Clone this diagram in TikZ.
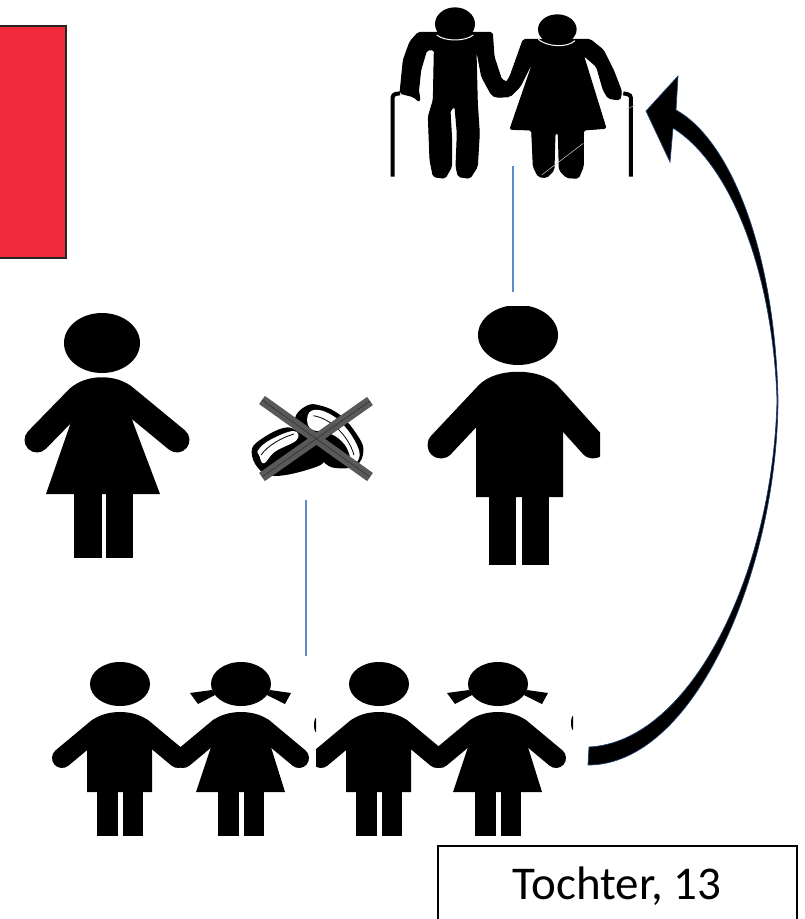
\documentclass[tikz,border=0pt]{standalone}
\usepackage{fontspec}
\setmainfont{Carlito}
\definecolor{boxred}{HTML}{EE2A3B}
\definecolor{linkblue}{HTML}{5B8BC8}
\definecolor{crossgray}{HTML}{595959}
\definecolor{arrowedge}{HTML}{1F3F6F}
\tikzset{
  link/.style={draw=linkblue,line width=1.3pt},
  sil/.style={fill=black,draw=none},
  oldsil/.style={fill=black,draw=black,line width=1pt,rounded corners=2pt},
  limb/.style={draw=black,line cap=round,line join=round},
  pics/boy/.style={code={
    \fill[sil] (0,0) ellipse (30 and 22);
    \fill[sil] (-18,36) -- (18,36) -- (32,58) -- (32,108) -- (-33,108) -- (-33,58) -- cycle;
    \draw[limb,line width=20] (-58,74) -- (-22,44) .. controls (-10,36) and (10,36) .. (22,44) -- (58,74);
    \fill[sil] (-23,108) rectangle (-2,152);
    \fill[sil] (3,108) rectangle (23,152);
  }},
  pics/girl/.style={code={
    \fill[sil] (0,0) ellipse (30 and 22);
    \fill[sil] (-51,9) -- (-29,6) -- (-26,11) -- (-43,20) -- cycle;
    \fill[sil] (50,9) -- (29,6) -- (26,11) -- (44,20) -- cycle;
    \fill[sil] (-20,36) -- (20,36) -- (29,60) -- (44,108) -- (-45,108) -- (-29,60) -- cycle;
    \draw[limb,line width=20] (-58,74) -- (-22,44) .. controls (-10,36) and (10,36) .. (22,44) -- (58,74);
    \fill[sil] (-23,108) rectangle (-2,152);
    \fill[sil] (3,108) rectangle (23,152);
  }}
}
\begin{document}
\begin{tikzpicture}[x=1pt,y=-1pt]
  \useasboundingbox (0,0) rectangle (805,919);
  % red box
  \node (redbox) [draw=black!85,fill=boxred,line width=1.8pt,minimum width=72pt,minimum height=232pt,inner sep=0pt,anchor=north east] at (67,25) {};
  % old couple
  \begin{scope}[shift={(370,0)},x=0.3333pt,y=-0.3333pt]
    \fill[sil] (255,72) ellipse (60 and 50);
    \fill[sil] (562,88) ellipse (58 and 45);
    \filldraw[oldsil] (145,97) -- (367,97) -- (372,170) -- (395,240) -- (425,250) -- (420,290) -- (380,292) -- (365,285) -- (335,230) -- (320,150) -- (318,150) -- (322,310) -- (328,400) -- (322,500) -- (300,535) -- (265,530) -- (258,500) -- (262,400) -- (255,320) -- (240,330) -- (245,420) -- (245,500) -- (225,535) -- (190,530) -- (180,480) -- (175,350) -- (190,300) -- (193,150) -- (170,150) -- (152,210) -- (145,278) -- (150,290) -- (148,305) -- (130,290) -- (90,280) -- (100,180) -- (120,125) -- cycle;
    \filldraw[oldsil] (460,118) -- (660,118) -- (700,150) -- (730,210) -- (755,275) -- (750,300) -- (715,295) -- (700,270) -- (680,200) -- (640,165) -- (708,385) -- (640,390) -- (640,500) -- (625,535) -- (590,533) -- (568,510) -- (565,400) -- (555,400) -- (552,510) -- (530,533) -- (505,530) -- (490,500) -- (485,390) -- (420,388) -- (495,170) -- (450,260) -- (420,290) -- (385,285) -- (420,230) -- cycle;
    \draw[black,line width=4pt,rounded corners=3pt] (68,530) -- (68,283) -- (90,280);
    \draw[black,line width=4pt,rounded corners=3pt] (783,530) -- (783,285) -- (760,280);
    \draw[white,line width=1pt] (200,105) .. controls (225,125) and (285,125) .. (310,105);
    \draw[white,line width=1pt] (505,118) .. controls (530,140) and (590,145) .. (615,122);
    \draw[black!20,line width=0.5pt] (515,525) -- (640,430);
    \draw[black!20,line width=0.5pt] (772,327) -- (795,315);
  \end{scope}
  % woman
  \fill[sil] (102,343) ellipse (38 and 30);
  \fill[sil] (85,385) -- (120,385) -- (134,425) -- (160,494) -- (46,494) -- (70,425) -- cycle;
  \draw[limb,line width=25] (37,440) -- (78,398) .. controls (90,387) and (114,387) .. (126,398) -- (177,440);
  \fill[sil] (74,494) rectangle (102,558);
  \fill[sil] (106,494) rectangle (133,558);
  % man
  \begin{scope}
    \clip (420,306) rectangle (600,570);
    \fill[sil] (518,335) ellipse (40 and 30);
    \fill[sil] (505,380) -- (535,380) -- (563,420) -- (563,497) -- (476,497) -- (476,420) -- cycle;
    \draw[limb,line width=27] (441,445) -- (488,395) .. controls (500,382) and (536,382) .. (548,395) -- (593,445);
    \fill[sil] (489,497) rectangle (516,565);
    \fill[sil] (522,497) rectangle (549,565);
  \end{scope}
  % rings
  \begin{scope}[shift={(250,395)},x=0.3333pt,y=-0.3333pt]
    \fill[black] plot[smooth cycle,tension=0.7] coordinates {(135,70) (165,35) (205,30) (270,60) (325,125) (340,170) (320,210) (270,220) (225,205) (190,150) (150,115)};
    \fill[white] plot[smooth cycle,tension=0.7] coordinates {(178,52) (225,50) (285,95) (328,170) (310,205) (285,150) (240,115) (180,100)};
    \draw[black,line width=0.8pt] (190,62) .. controls (240,70) and (295,120) .. (312,180);
    \fill[black] plot[smooth cycle,tension=0.7] coordinates {(5,170) (30,135) (105,98) (150,115) (190,150) (225,195) (170,225) (70,243) (25,220)};
    \fill[white] plot[smooth cycle,tension=0.7] coordinates {(25,165) (60,135) (130,108) (140,135) (75,170) (42,205) (28,182)};
    \draw[black,line width=0.8pt] (33,180) .. controls (55,150) and (95,128) .. (132,117);
  \end{scope}
  \coordinate (crossa) at (262,400);
  \coordinate (crossb) at (370,477);
  \coordinate (crossc) at (370,401);
  \coordinate (crossd) at (262,477);
  \draw[crossgray,line width=10pt] (crossa) -- (crossb);
  \draw[crossgray,line width=10pt] (crossc) -- (crossd);
  \draw[black!80,line width=0.6pt] (crossa) -- (crossb);
  \draw[black!80,line width=0.6pt] (crossc) -- (crossd);
  % children
  \foreach \px/\name in {120/boy,241/girl}
     \pic at (\px,684) {\name};
  \begin{scope}
    \clip (316,640) rectangle (573,850);
    \foreach \px/\name in {379/boy,498/girl}
       \pic at (\px,684) {\name};
  \end{scope}
  \fill[sil] (316,732) arc (90:270:2 and 7) -- cycle;
  \fill[sil] (573,730) arc (90:270:2 and 7) -- cycle;
  % connectors
  \coordinate (oldfoot) at (513,166);
  \coordinate (manhead) at (513,292);
  \coordinate (ringfoot) at (306,500);
  \coordinate (kidshead) at (306,656);
  \draw[link] (oldfoot) -- (manhead);
  \draw[link] (ringfoot) -- (kidshead);
  % big arrow
  \filldraw[fill=black,draw=arrowedge,line width=0.7pt] (646,111) -- (678,76) -- (676,110)
     .. controls (730,140) and (775,250) .. (778,400)
     .. controls (777,570) and (695,765) .. (588,765)
     -- (589,747)
     .. controls (690,742) and (773,575) .. (777,400)
     .. controls (773,275) and (732,165) .. (673,128)
     -- (670,162) -- cycle;
  % label
  \node (label) [draw=black,fill=white,line width=1.5pt,minimum width=359pt,minimum height=81pt,inner sep=0pt,anchor=north west,font=\fontsize{47}{56}\selectfont] at (437,845) {Tochter, 13};
\end{tikzpicture}
\end{document}
